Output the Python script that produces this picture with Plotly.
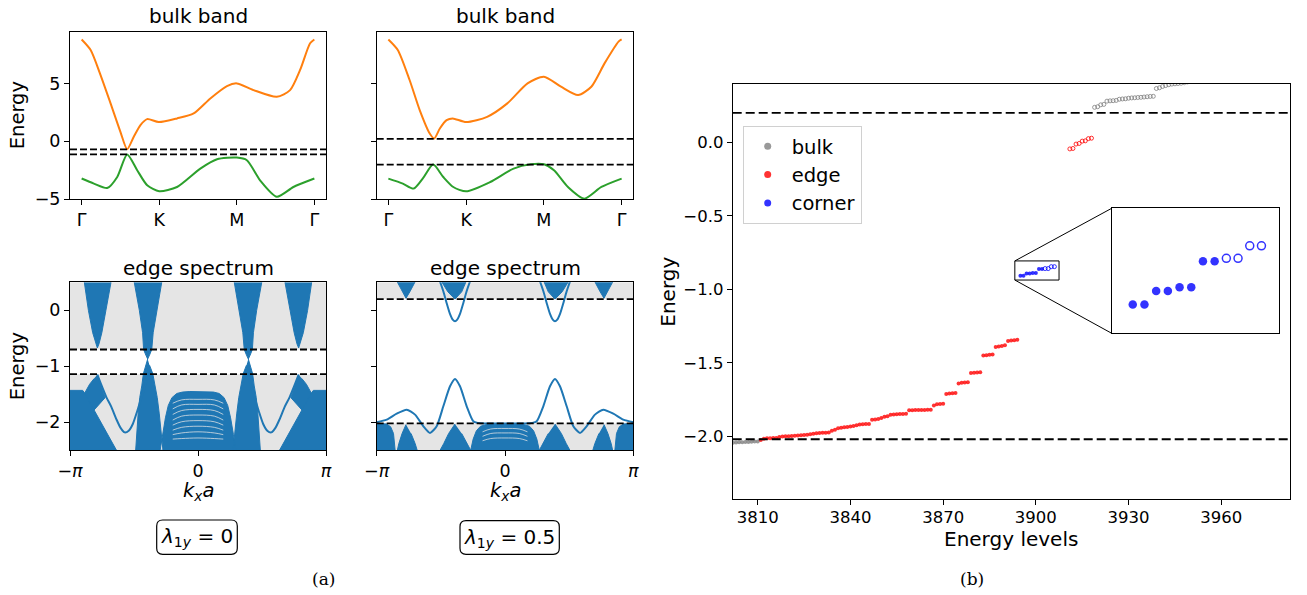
import plotly.graph_objects as go

W, H = 1307, 595
FONT = "DejaVu Sans"
BLUE = "#1f77b4"
ORANGE = "#ff7f0e"
GREEN = "#2ca02c"
BAND_GREY = "#e5e5e5"
PI = 3.141592653589793

# ------------------------------------------------------------------ data
path_ticks = [0, 1, 2, 3]
path_labels = ["Γ", "K", "M", "Γ"]

# bulk band, lambda_1y = 0
bb0_cond_k = [0, 0.116, 0.244, 0.373, 0.50, 0.587, 0.672, 0.758, 0.844, 0.994, 1.23, 1.444, 1.659, 1.873, 2.0, 2.216, 2.516, 2.687, 2.816, 2.945, 3.0]
bb0_cond_e = [8.8, 7.89, 5.72, 3.27, 0.81, -0.69, 0.38, 1.39, 1.91, 1.65, 1.97, 2.40, 3.70, 4.77, 5.0, 4.42, 3.84, 4.42, 6.16, 8.47, 8.8]
bb0_val_k = [0, 0.158, 0.33, 0.459, 0.587, 0.716, 0.845, 1.0, 1.23, 1.53, 1.745, 2.0, 2.13, 2.30, 2.516, 2.73, 3.0]
bb0_val_e = [-3.23, -3.67, -4.05, -3.09, -1.15, -2.51, -3.81, -4.33, -3.96, -2.37, -1.56, -1.42, -1.65, -3.38, -4.80, -3.96, -3.23]

# bulk band, lambda_1y = 0.5
bb5_cond_k = [0, 0.121, 0.273, 0.403, 0.532, 0.589, 0.662, 0.749, 0.827, 1.0, 1.27, 1.53, 1.79, 2.0, 2.22, 2.44, 2.61, 2.78, 2.96, 3.0]
bb5_cond_e = [8.8, 7.89, 5.29, 2.69, 0.66, 0.23, 1.10, 1.82, 1.97, 1.65, 2.11, 3.27, 5.0, 5.58, 4.71, 3.99, 4.71, 6.73, 8.61, 8.8]
bb5_val_k = [0, 0.186, 0.325, 0.446, 0.576, 0.706, 0.835, 1.0, 1.31, 1.61, 1.83, 2.0, 2.13, 2.31, 2.52, 2.74, 3.0]
bb5_val_e = [-3.24, -3.67, -4.10, -3.20, -2.02, -3.10, -3.96, -4.34, -3.53, -2.37, -2.0, -2.0, -2.51, -3.96, -4.97, -3.96, -3.24]

gap_lam0 = [-0.70, -1.14]
gap_lam5 = [0.20, -2.02]

# edge spectrum, lambda_1y = 0  (continuum regions as polygons)
e0_upA_l_k = [-2.79, -2.69, -2.585, -2.51, -2.47, -2.43, -2.36, -2.26, -2.135]
e0_upA_l_e = [0.5, 0.0, -0.40, -0.60, -0.673, -0.60, -0.40, 0.0, 0.5]
e0_upA_r_k = [2.79, 2.69, 2.585, 2.51, 2.47, 2.43, 2.36, 2.26, 2.135]
e0_upA_r_e = [0.5, 0.0, -0.40, -0.60, -0.673, -0.60, -0.40, 0.0, 0.5]
e0_upB_l_k = [-1.565, -1.44, -1.36, -1.335, -1.28, -1.235, -1.19, -1.135, -1.10, -1.015, -0.89]
e0_upB_l_e = [0.5, 0.0, -0.40, -0.70, -0.80, -0.87, -0.80, -0.70, -0.40, 0.0, 0.5]
e0_upB_r_k = [1.565, 1.44, 1.36, 1.335, 1.28, 1.235, 1.19, 1.135, 1.10, 1.015, 0.89]
e0_upB_r_e = [0.5, 0.0, -0.40, -0.70, -0.80, -0.87, -0.80, -0.70, -0.40, 0.0, 0.5]
e0_loB_l_k = [-1.235, -1.28, -1.34, -1.38, -1.43, -1.47, -1.50, -1.53, -0.86, -0.90, -0.95, -1.00, -1.05, -1.11, -1.19]
e0_loB_l_e = [-0.87, -0.98, -1.13, -1.35, -1.56, -1.85, -2.15, -2.5, -2.5, -2.15, -1.85, -1.56, -1.35, -1.13, -0.98]
e0_loB_r_k = [1.235, 1.28, 1.34, 1.38, 1.43, 1.47, 1.50, 1.53, 0.86, 0.90, 0.95, 1.00, 1.05, 1.11, 1.19]
e0_loB_r_e = [-0.87, -0.98, -1.13, -1.35, -1.56, -1.85, -2.15, -2.5, -2.5, -2.15, -1.85, -1.56, -1.35, -1.13, -0.98]
e0_fanA_l_k = [-2.47, -2.40, -2.33, -2.28, -2.55, -2.69, -2.79, -2.66, -2.55]
e0_fanA_l_e = [-1.15, -1.30, -1.45, -1.56, -1.78, -1.60, -1.49, -1.32, -1.22]
e0_fanA_r_k = [2.47, 2.40, 2.33, 2.28, 2.55, 2.69, 2.79, 2.66, 2.55]
e0_fanA_r_e = [-1.15, -1.30, -1.45, -1.56, -1.78, -1.60, -1.49, -1.32, -1.22]
e0_block_l_k = [-PI, -2.83, -2.78, -2.65, -2.45, -2.25, -2.10, -2.00, -PI]
e0_block_l_e = [-1.43, -1.43, -1.48, -1.65, -1.90, -2.15, -2.35, -2.5, -2.5]
e0_block_r_k = [PI, 2.83, 2.78, 2.65, 2.45, 2.25, 2.10, 2.00, PI]
e0_block_r_e = [-1.43, -1.43, -1.48, -1.65, -1.90, -2.15, -2.35, -2.5, -2.5]
e0_dome_k = [-0.93, -0.87, -0.80, -0.73, -0.64, -0.52, -0.38, -0.20, 0.0, 0.20, 0.38, 0.52, 0.64, 0.73, 0.80, 0.87, 0.93]
e0_dome_e = [-2.5, -2.22, -1.92, -1.70, -1.56, -1.485, -1.46, -1.45, -1.45, -1.45, -1.46, -1.485, -1.56, -1.70, -1.92, -2.22, -2.5]
# sub-band gaps visible inside the dome
e0_stripe_k = [-0.62, -0.40, 0.0, 0.40, 0.62]
e0_stripe1_e = [-1.66, -1.60, -1.59, -1.60, -1.66]
e0_stripe2_e = [-1.76, -1.69, -1.68, -1.69, -1.76]
e0_stripe3_e = [-1.86, -1.79, -1.77, -1.79, -1.86]
e0_stripe4_e = [-1.96, -1.89, -1.87, -1.89, -1.96]
e0_stripe5_e = [-2.05, -1.99, -1.97, -1.99, -2.05]
e0_stripe6_e = [-2.14, -2.09, -2.07, -2.09, -2.14]
e0_stripe7_e = [-2.22, -2.19, -2.17, -2.19, -2.22]
e0_stripe8_e = [-2.30, -2.29, -2.28, -2.29, -2.30]
# edge-state curves, lambda_1y = 0
e0_U_l_k = [-2.47, -2.38, -2.25, -2.13, -2.00, -1.90, -1.80, -1.70, -1.60, -1.50, -1.40, -1.32, -1.26]
e0_U_l_e = [-1.15, -1.32, -1.55, -1.72, -1.95, -2.10, -2.18, -2.15, -2.03, -1.82, -1.58, -1.40, -1.25]
e0_U_r_k = [2.47, 2.38, 2.25, 2.13, 2.00, 1.90, 1.80, 1.70, 1.60, 1.50, 1.40, 1.32, 1.26]
e0_U_r_e = [-1.15, -1.32, -1.55, -1.72, -1.95, -2.10, -2.18, -2.15, -2.03, -1.82, -1.58, -1.40, -1.25]

# edge spectrum, lambda_1y = 0.5
e5_upA_l_k = [-2.64, -2.52, -2.424, -2.33, -2.20]
e5_upA_l_e = [0.51, 0.33, 0.215, 0.33, 0.51]
e5_upA_r_k = [2.64, 2.52, 2.424, 2.33, 2.20]
e5_upA_r_e = [0.51, 0.33, 0.215, 0.33, 0.51]
e5_upB_l_k = [-1.55, -1.40, -1.224, -1.06, -0.955]
e5_upB_l_e = [0.51, 0.33, 0.20, 0.33, 0.51]
e5_upB_r_k = [1.55, 1.40, 1.224, 1.06, 0.955]
e5_upB_r_e = [0.51, 0.33, 0.20, 0.33, 0.51]
e5_block_l_k = [-PI, -2.90, -2.80, -2.73, -2.69, -PI]
e5_block_l_e = [-2.02, -2.03, -2.08, -2.20, -2.5, -2.5]
e5_block_r_k = [PI, 2.90, 2.80, 2.73, 2.69, PI]
e5_block_r_e = [-2.02, -2.03, -2.08, -2.20, -2.5, -2.5]
e5_loA_l_k = [-2.424, -2.52, -2.60, -2.636, -2.15, -2.20, -2.30]
e5_loA_l_e = [-2.04, -2.20, -2.38, -2.5, -2.5, -2.38, -2.20]
e5_loA_r_k = [2.424, 2.52, 2.60, 2.636, 2.15, 2.20, 2.30]
e5_loA_r_e = [-2.04, -2.20, -2.38, -2.5, -2.5, -2.38, -2.20]
e5_loB_l_k = [-1.224, -1.38, -1.50, -1.59, -0.84, -0.93, -1.06]
e5_loB_l_e = [-2.03, -2.20, -2.38, -2.5, -2.5, -2.38, -2.20]
e5_loB_r_k = [1.224, 1.38, 1.50, 1.59, 0.84, 0.93, 1.06]
e5_loB_r_e = [-2.03, -2.20, -2.38, -2.5, -2.5, -2.38, -2.20]
e5_dome_k = [-0.84, -0.78, -0.70, -0.60, -0.45, 0.0, 0.45, 0.60, 0.70, 0.78, 0.84]
e5_dome_e = [-2.5, -2.30, -2.15, -2.07, -2.04, -2.04, -2.04, -2.07, -2.15, -2.30, -2.5]
e5_stripe_k = [-0.55, -0.35, 0.0, 0.35, 0.55]
e5_stripe1_e = [-2.17, -2.12, -2.11, -2.12, -2.17]
e5_stripe2_e = [-2.25, -2.20, -2.19, -2.20, -2.25]
e5_stripe3_e = [-2.33, -2.29, -2.28, -2.29, -2.33]
# edge-state curves, lambda_1y = 0.5
e5_par_l_k = [-1.59, -1.51, -1.43, -1.35, -1.28, -1.224, -1.17, -1.10, -1.02, -0.94, -0.86]
e5_par_l_e = [0.51, 0.339, 0.131, -0.06, -0.167, -0.196, -0.167, -0.06, 0.131, 0.339, 0.51]
e5_par_r_k = [1.59, 1.51, 1.43, 1.35, 1.28, 1.224, 1.17, 1.10, 1.02, 0.94, 0.86]
e5_par_r_e = [0.51, 0.339, 0.131, -0.06, -0.167, -0.196, -0.167, -0.06, 0.131, 0.339, 0.51]
e5_low_k = [-PI, -2.897, -2.652, -2.407, -2.203, -1.999, -1.836, -1.673, -1.510, -1.346, -1.224, -1.102, -0.938, -0.775,
            -0.612, -0.367, 0.0, 0.367, 0.612, 0.775, 0.938, 1.102, 1.224, 1.346, 1.510, 1.673, 1.836, 1.999, 2.203,
            2.407, 2.652, 2.897, PI]
e5_low_e = [-2.0, -1.952, -1.845, -1.774, -1.863, -2.071, -2.19, -2.071, -1.714, -1.357, -1.226, -1.357, -1.714, -1.982,
            -2.018, -2.02, -2.02, -2.02, -2.018, -1.982, -1.714, -1.357, -1.226, -1.357, -1.714, -2.071, -2.19, -2.071,
            -1.863, -1.774, -1.845, -1.952, -2.0]

# (b) energy levels
bulk_low_lvl = [3798, 3799, 3800, 3801, 3802, 3803, 3804, 3805, 3806, 3807, 3808, 3809, 3810]
bulk_low_e = [-2.046, -2.045, -2.045, -2.044, -2.043, -2.042, -2.041, -2.040, -2.039, -2.038, -2.037, -2.036, -2.035]

edge_lvl = list(range(3811, 3895))
edge_e = [-2.025, -2.016, -2.014, -2.013, -2.012, -2.011, -2.004, -2.001, -2.000, -1.999,
          -1.998, -1.996, -1.995, -1.993, -1.991, -1.989, -1.986, -1.983, -1.979, -1.977,
          -1.976, -1.975, -1.974, -1.962, -1.955, -1.946, -1.941, -1.939, -1.937, -1.934,
          -1.930, -1.925, -1.919, -1.918, -1.917, -1.916, -1.888, -1.885, -1.882, -1.875,
          -1.867, -1.863, -1.853, -1.851, -1.850, -1.849, -1.848, -1.847, -1.823, -1.822,
          -1.821, -1.821, -1.821, -1.821, -1.820, -1.819, -1.790, -1.782, -1.780, -1.778,
          -1.712, -1.709, -1.707, -1.705, -1.640, -1.636, -1.634, -1.632, -1.570, -1.568,
          -1.566, -1.564, -1.450, -1.448, -1.446, -1.444, -1.392, -1.389, -1.386, -1.380,
          -1.352, -1.349, -1.346, -1.343]

corner_lvl = [3895, 3896, 3897, 3898, 3899, 3900, 3901, 3902, 3903, 3904, 3905, 3906]
corner_e = [-0.907, -0.907, -0.893, -0.893, -0.889, -0.889, -0.862, -0.862, -0.859, -0.859, -0.846, -0.846]
corner_filled = [True] * 8 + [False] * 4

edge_open_lvl = [3911, 3912, 3913, 3914, 3915, 3916, 3917, 3918]
edge_open_e = [-0.045, -0.042, -0.012, -0.008, 0.008, 0.010, 0.025, 0.028]

bulk_open_lvl = list(range(3919, 3951))
bulk_open_e = [0.238, 0.242, 0.255, 0.258, 0.280, 0.282, 0.283, 0.285, 0.293, 0.295,
               0.296, 0.300, 0.302, 0.303, 0.305, 0.306, 0.308, 0.310, 0.312, 0.313,
               0.366, 0.371, 0.380, 0.386, 0.392, 0.396, 0.398, 0.400, 0.402, 0.405,
               0.410, 0.415]

main_xticks = [3810, 3840, 3870, 3900, 3930, 3960]
main_yticks = [-2.0, -1.5, -1.0, -0.5, 0.0]
inset_xrange = [3893.2, 3907.5]
inset_yrange = [-0.937, -0.807]

# ------------------------------------------------------------------ layout geometry (pixels)
def fx(px):
    return px / W


def fy(py):
    return 1 - py / H


P_TL = (70, 326, 31.7, 199)
P_TR = (376.7, 633.3, 31.7, 199)
P_BL = (70, 326, 282.3, 450.3)
P_BR = (376.7, 633.3, 282.3, 450.3)
P_M = (732.7, 1290, 84.3, 499)
P_IN = (1111.7, 1279, 208.3, 333.3)
M_XR = [3801.91, 3982.23]
M_YR = [-2.4265, 0.3946]


def dom(p):
    return [fx(p[0]), fx(p[1])], [fy(p[3]), fy(p[2])]


def join(*parts):
    xs, ys = [], []
    for k, e in parts:
        xs += list(k) + [None]
        ys += list(e) + [None]
    return xs, ys


fig = go.Figure()

# ---- (a) bulk bands
for ck, ce, vk, ve, ax in [(bb0_cond_k, bb0_cond_e, bb0_val_k, bb0_val_e, ""),
                           (bb5_cond_k, bb5_cond_e, bb5_val_k, bb5_val_e, "2")]:
    fig.add_trace(go.Scatter(x=ck, y=ce, mode="lines", line=dict(color=ORANGE, width=2, shape="spline", smoothing=0.7),
                             xaxis="x" + ax, yaxis="y" + ax, showlegend=False, hoverinfo="skip"))
    fig.add_trace(go.Scatter(x=vk, y=ve, mode="lines", line=dict(color=GREEN, width=2, shape="spline", smoothing=0.7),
                             xaxis="x" + ax, yaxis="y" + ax, showlegend=False, hoverinfo="skip"))

# ---- (a) edge spectra
poly0 = join((e0_upA_l_k, e0_upA_l_e), (e0_upA_r_k, e0_upA_r_e), (e0_upB_l_k, e0_upB_l_e), (e0_upB_r_k, e0_upB_r_e),
             (e0_loB_l_k, e0_loB_l_e), (e0_loB_r_k, e0_loB_r_e), (e0_fanA_l_k, e0_fanA_l_e), (e0_fanA_r_k, e0_fanA_r_e),
             (e0_block_l_k, e0_block_l_e), (e0_block_r_k, e0_block_r_e), (e0_dome_k, e0_dome_e))
fig.add_trace(go.Scatter(x=poly0[0], y=poly0[1], mode="lines", fill="toself", fillcolor=BLUE,
                         line=dict(color=BLUE, width=1), xaxis="x3", yaxis="y3", showlegend=False, hoverinfo="skip"))
str0 = join((e0_stripe_k, e0_stripe1_e), (e0_stripe_k, e0_stripe2_e), (e0_stripe_k, e0_stripe3_e),
            (e0_stripe_k, e0_stripe4_e), (e0_stripe_k, e0_stripe5_e), (e0_stripe_k, e0_stripe6_e),
            (e0_stripe_k, e0_stripe7_e), (e0_stripe_k, e0_stripe8_e))
fig.add_trace(go.Scatter(x=str0[0], y=str0[1], mode="lines", line=dict(color="rgba(229,229,229,0.75)", width=1, shape="spline"),
                         xaxis="x3", yaxis="y3", showlegend=False, hoverinfo="skip"))
curv0 = join((e0_U_l_k, e0_U_l_e), (e0_U_r_k, e0_U_r_e))
fig.add_trace(go.Scatter(x=curv0[0], y=curv0[1], mode="lines", line=dict(color=BLUE, width=2, shape="spline", smoothing=0.6),
                         xaxis="x3", yaxis="y3", showlegend=False, hoverinfo="skip"))

poly5 = join((e5_upA_l_k, e5_upA_l_e), (e5_upA_r_k, e5_upA_r_e), (e5_upB_l_k, e5_upB_l_e), (e5_upB_r_k, e5_upB_r_e),
             (e5_block_l_k, e5_block_l_e), (e5_block_r_k, e5_block_r_e), (e5_loA_l_k, e5_loA_l_e),
             (e5_loA_r_k, e5_loA_r_e), (e5_loB_l_k, e5_loB_l_e), (e5_loB_r_k, e5_loB_r_e), (e5_dome_k, e5_dome_e))
fig.add_trace(go.Scatter(x=poly5[0], y=poly5[1], mode="lines", fill="toself", fillcolor=BLUE,
                         line=dict(color=BLUE, width=1), xaxis="x4", yaxis="y4", showlegend=False, hoverinfo="skip"))
str5 = join((e5_stripe_k, e5_stripe1_e), (e5_stripe_k, e5_stripe2_e), (e5_stripe_k, e5_stripe3_e))
fig.add_trace(go.Scatter(x=str5[0], y=str5[1], mode="lines", line=dict(color="rgba(229,229,229,0.75)", width=1, shape="spline"),
                         xaxis="x4", yaxis="y4", showlegend=False, hoverinfo="skip"))
curv5 = join((e5_par_l_k, e5_par_l_e), (e5_par_r_k, e5_par_r_e), (e5_low_k, e5_low_e))
fig.add_trace(go.Scatter(x=curv5[0], y=curv5[1], mode="lines", line=dict(color=BLUE, width=2, shape="spline", smoothing=0.6),
                         xaxis="x4", yaxis="y4", showlegend=False, hoverinfo="skip"))

# ---- (b) energy levels
GREY_C = "rgba(128,128,128,0.8)"
RED_C = "rgba(255,0,0,0.8)"
BLUE_C = "rgba(0,0,255,0.8)"
ms = 4
fig.add_trace(go.Scatter(x=bulk_low_lvl, y=bulk_low_e, mode="markers", marker=dict(color=GREY_C, size=ms),
                         xaxis="x5", yaxis="y5", showlegend=False))
fig.add_trace(go.Scatter(x=edge_lvl, y=edge_e, mode="markers", marker=dict(color=RED_C, size=ms),
                         xaxis="x5", yaxis="y5", showlegend=False))
cf_x = [l for l, f in zip(corner_lvl, corner_filled) if f]
cf_y = [e for e, f in zip(corner_e, corner_filled) if f]
co_x = [l for l, f in zip(corner_lvl, corner_filled) if not f]
co_y = [e for e, f in zip(corner_e, corner_filled) if not f]
fig.add_trace(go.Scatter(x=cf_x, y=cf_y, mode="markers", marker=dict(color=BLUE_C, size=ms),
                         xaxis="x5", yaxis="y5", showlegend=False))
fig.add_trace(go.Scatter(x=co_x, y=co_y, mode="markers", marker=dict(color=BLUE_C, size=ms, symbol="circle-open", line=dict(width=1)),
                         xaxis="x5", yaxis="y5", showlegend=False))
fig.add_trace(go.Scatter(x=edge_open_lvl, y=edge_open_e, mode="markers",
                         marker=dict(color=RED_C, size=ms, symbol="circle-open", line=dict(width=1)),
                         xaxis="x5", yaxis="y5", showlegend=False))
fig.add_trace(go.Scatter(x=bulk_open_lvl, y=bulk_open_e, mode="markers",
                         marker=dict(color=GREY_C, size=ms, symbol="circle-open", line=dict(width=1)),
                         xaxis="x5", yaxis="y5", showlegend=False))
# inset
fig.add_trace(go.Scatter(x=cf_x, y=cf_y, mode="markers", marker=dict(color=BLUE_C, size=8.5),
                         xaxis="x6", yaxis="y6", showlegend=False))
fig.add_trace(go.Scatter(x=co_x, y=co_y, mode="markers",
                         marker=dict(color=BLUE_C, size=8, symbol="circle-open", line=dict(width=1.5)),
                         xaxis="x6", yaxis="y6", showlegend=False))
# legend entries
for name, col in [("bulk", GREY_C), ("edge", RED_C), ("corner", BLUE_C)]:
    fig.add_trace(go.Scatter(x=[None], y=[None], mode="markers", marker=dict(color=col, size=7),
                             name=name, xaxis="x5", yaxis="y5", showlegend=True))

# ------------------------------------------------------------------ axes
tickfont = dict(family=FONT, size=17.5, color="black")
base = dict(showline=True, linecolor="black", linewidth=1, mirror=True, ticks="outside", ticklen=5, tickwidth=1,
            tickcolor="black", showgrid=False, zeroline=False, tickfont=tickfont, automargin=False)

lay = {}
for idx, p, xr, yr, xt, xtt, yt, ylab in [
    ("", P_TL, [-0.15, 3.15], [-5, 9.47], path_ticks, path_labels, [-5, 0, 5], True),
    ("2", P_TR, [-0.15, 3.15], [-5, 9.47], path_ticks, path_labels, [-5, 0, 5], False),
    ("3", P_BL, [-PI, PI], [-2.5, 0.5], [-PI, 0, PI], ["−<i>π</i>", "0", "<i>π</i>"], [-2, -1, 0], True),
    ("4", P_BR, [-PI, PI], [-2.5, 0.5], [-PI, 0, PI], ["−<i>π</i>", "0", "<i>π</i>"], [-2, -1, 0], False),
]:
    dx, dy = dom(p)
    lay["xaxis" + idx] = dict(base, domain=dx, range=xr, tickvals=xt, ticktext=xtt, anchor="y" + idx)
    lay["yaxis" + idx] = dict(base, domain=dy, range=yr, tickvals=yt, showticklabels=ylab, anchor="x" + idx)

dx, dy = dom(P_M)
mfont = dict(family=FONT, size=16.5, color="black")
lay["xaxis5"] = dict(base, domain=dx, range=M_XR, tickvals=main_xticks, tickfont=mfont, anchor="y5",
                     ticklabelstandoff=-2)
lay["yaxis5"] = dict(base, domain=dy, range=M_YR, tickvals=main_yticks, tickformat=".1f", tickfont=mfont, anchor="x5")
dx, dy = dom(P_IN)
lay["xaxis6"] = dict(domain=dx, range=inset_xrange, showline=True, linecolor="black", linewidth=1, mirror=True,
                     ticks="", showticklabels=False, showgrid=False, zeroline=False, anchor="y6", automargin=False)
lay["yaxis6"] = dict(domain=dy, range=inset_yrange, showline=True, linecolor="black", linewidth=1, mirror=True,
                     ticks="", showticklabels=False, showgrid=False, zeroline=False, anchor="x6", automargin=False)

# ------------------------------------------------------------------ shapes
shapes = []
# grey continuum bands in edge spectra
for ax, gap, yr in [("3", gap_lam0, [-2.5, 0.5]), ("4", gap_lam5, [-2.5, 0.5])]:
    shapes.append(dict(type="rect", xref="x" + ax + " domain", yref="y" + ax, x0=0, x1=1, y0=gap[0], y1=yr[1],
                       fillcolor=BAND_GREY, line=dict(width=0), layer="below"))
    shapes.append(dict(type="rect", xref="x" + ax + " domain", yref="y" + ax, x0=0, x1=1, y0=yr[0], y1=gap[1],
                       fillcolor=BAND_GREY, line=dict(width=0), layer="below"))
# dashed gap lines
for ax, gap in [("", gap_lam0), ("2", gap_lam5), ("3", gap_lam0), ("4", gap_lam5)]:
    for g in gap:
        shapes.append(dict(type="line", xref="x" + ax + " domain", yref="y" + ax, x0=0, x1=1, y0=g, y1=g,
                           line=dict(color="black", width=1.8, dash="7px,3px"), layer="above"))
for g in gap_lam5:
    shapes.append(dict(type="line", xref="x5 domain", yref="y5", x0=0, x1=1, y0=g, y1=g,
                       line=dict(color="black", width=1.8, dash="9px,4px"), layer="above"))


# zoom box and connectors (main-axis data coordinates)
def mx(px):
    return M_XR[0] + (px - P_M[0]) / (P_M[1] - P_M[0]) * (M_XR[1] - M_XR[0])


def my(py):
    return M_YR[1] - (py - P_M[2]) / (P_M[3] - P_M[2]) * (M_YR[1] - M_YR[0])


shapes.append(dict(type="rect", xref="x5", yref="y5", x0=inset_xrange[0], x1=inset_xrange[1],
                   y0=inset_yrange[0], y1=inset_yrange[1], line=dict(color="black", width=1)))
shapes.append(dict(type="line", xref="x5", yref="y5", x0=inset_xrange[0], y0=inset_yrange[1],
                   x1=mx(P_IN[0]), y1=my(P_IN[2]), line=dict(color="black", width=1)))
shapes.append(dict(type="line", xref="x5", yref="y5", x0=inset_xrange[0], y0=inset_yrange[0],
                   x1=mx(P_IN[0]), y1=my(P_IN[3]), line=dict(color="black", width=1)))


def rounded(x0, x1, y0, y1, r=6):
    pts = [("M", x0 + r, y0), ("L", x1 - r, y0), ("Q", x1, y0, x1, y0 + r), ("L", x1, y1 - r),
           ("Q", x1, y1, x1 - r, y1), ("L", x0 + r, y1), ("Q", x0, y1, x0, y1 - r), ("L", x0, y0 + r),
           ("Q", x0, y0, x0 + r, y0)]
    s = ""
    for p in pts:
        if p[0] == "Q":
            s += "Q%.5f,%.5f %.5f,%.5f " % (fx(p[1]), fy(p[2]), fx(p[3]), fy(p[4]))
        else:
            s += "%s%.5f,%.5f " % (p[0], fx(p[1]), fy(p[2]))
    return s + "Z"


for b in [(156.7, 237.3, 520, 554.3), (460, 559.3, 520.7, 554.3)]:
    shapes.append(dict(type="path", xref="paper", yref="paper", path=rounded(*b),
                       line=dict(color="black", width=1.2), fillcolor="rgba(0,0,0,0)"))

# ------------------------------------------------------------------ annotations
ann = []


def text(px, py, s, size=20, angle=0, family=FONT):
    ann.append(dict(x=fx(px), y=fy(py), xref="paper", yref="paper", text=s, showarrow=False, textangle=angle,
                    xanchor="center", yanchor="middle", font=dict(family=family, size=size, color="black")))


text(198, 16, "bulk band")
text(505, 16, "bulk band")
text(198, 268, "edge spectrum")
text(505, 268, "edge spectrum")
text(17, 115.3, "Energy", size=19.5, angle=-90)
text(17, 366.3, "Energy", size=19.5, angle=-90)
text(198, 492, "<i>k<sub>x</sub>a</i>", size=19.5)
text(505, 492, "<i>k<sub>x</sub>a</i>", size=19.5)
text(197, 537, "<i>λ</i><sub>1<i>y</i></sub> = 0", size=20)
text(509.7, 537.5, "<i>λ</i><sub>1<i>y</i></sub> = 0.5", size=20)
text(323, 579, "(a)", size=17, family="DejaVu Serif")
text(972, 579, "(b)", size=17, family="DejaVu Serif")
text(668, 291.7, "Energy", size=20, angle=-90)
text(1011, 539, "Energy levels", size=20)

fig.update_layout(
    width=W, height=H, margin=dict(l=0, r=0, t=0, b=0, autoexpand=False),
    paper_bgcolor="white", plot_bgcolor="white",
    font=dict(family=FONT, color="black"),
    shapes=shapes, annotations=ann,
    legend=dict(x=fx(742.7), y=fy(126), xanchor="left", yanchor="top", bgcolor="white", itemwidth=38,
                bordercolor="#d0d0d0", borderwidth=1, font=dict(family=FONT, size=19.5, color="black")),
    **lay,
)

fig.write_html("out.html")
